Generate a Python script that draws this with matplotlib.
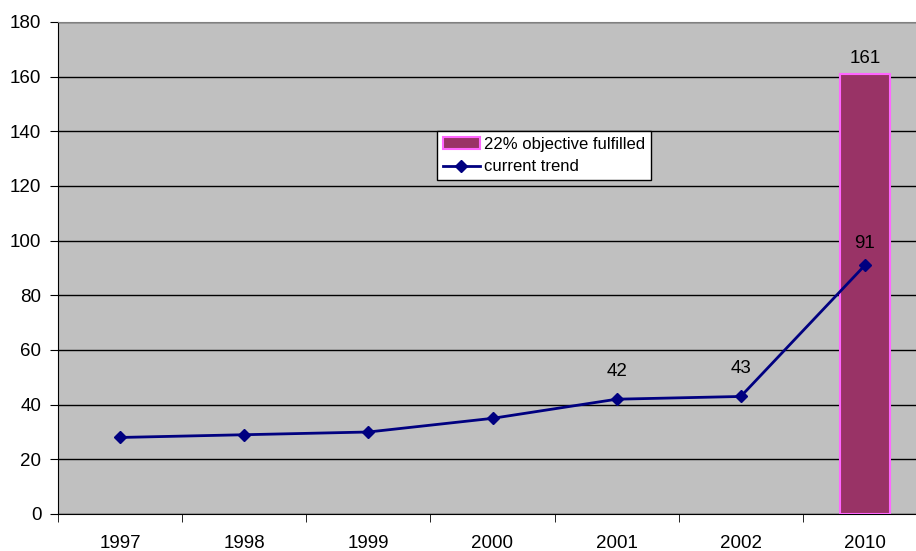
import numpy as np
import matplotlib.pyplot as plt

plt.rcParams['font.family'] = ['Liberation Sans', 'DejaVu Sans']

years = ['1997', '1998', '1999', '2000', '2001', '2002', '2010']
trend = [28, 29, 30, 35, 42, 43, 91]
objective_year = '2010'
objective_value = 161
labelled = {'2001': 42, '2002': 43, '2010': 91}

fig = plt.figure(figsize=(9.16, 5.51), dpi=100)
ax = fig.add_axes([58 / 916, 37 / 551, 869 / 916, 492 / 551])
ax.set_facecolor('#C0C0C0')

x = np.arange(len(years))
xb = years.index(objective_year)

bar = ax.bar(xb, objective_value, width=0.4, color='#993366', edgecolor='#FF66FF',
             linewidth=1.5, label='22% objective fulfilled', zorder=3)
line, = ax.plot(x, trend, color='#000080', marker='D', markersize=6, linewidth=2,
                label='current trend', zorder=4)

ax.text(xb, objective_value + 2.5, str(objective_value), ha='center', va='bottom', fontsize=13.5)
for yr, v in labelled.items():
    i = years.index(yr)
    off = 5 if yr == '2010' else 7
    ax.text(i, v + off, str(v), ha='center', va='bottom', fontsize=13.5)

ax.set_xlim(-0.5, len(years) - 0.5)
ax.set_ylim(0, 180)
ax.set_yticks(np.arange(0, 181, 20))
ax.set_xticks(x)
ax.set_xticklabels(years)
ax.set_xticks(np.arange(-0.5, len(years), 1), minor=True)
ax.tick_params(axis='x', which='major', length=0, pad=15, labelsize=13.5)
ax.tick_params(axis='x', which='minor', length=6, direction='out', color='black')
ax.tick_params(axis='y', length=6, direction='out', labelsize=13.5, pad=6)

ax.yaxis.grid(True, color='black', linewidth=1)
ax.set_axisbelow(True)
ax.spines['right'].set_visible(False)
ax.spines['top'].set_color('#808080')
ax.spines['left'].set_color('black')
ax.spines['bottom'].set_color('black')

leg = ax.legend(handles=[bar, line], loc='upper left',
                bbox_to_anchor=((437 - 58) / 869, (514 - 131) / 492),
                fontsize=12, frameon=True, fancybox=False, framealpha=1,
                edgecolor='black', borderpad=0.35, handlelength=2.2,
                handletextpad=0.25, labelspacing=0.45, borderaxespad=0)
leg.get_frame().set_linewidth(1)

fig.savefig('out.png', dpi=100)
